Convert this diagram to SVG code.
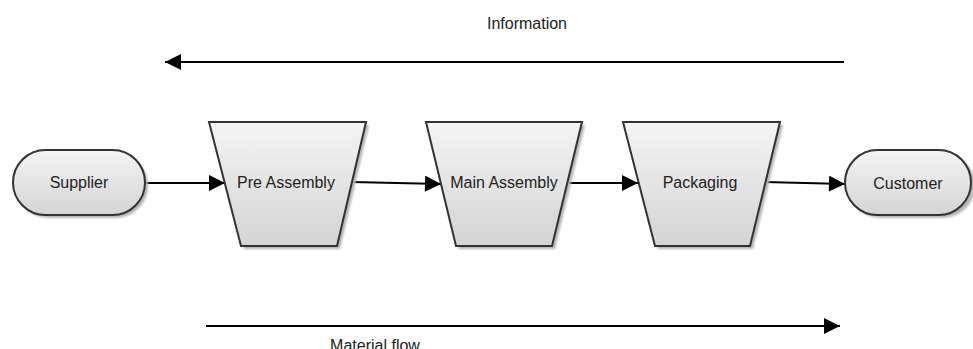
<svg xmlns="http://www.w3.org/2000/svg" width="973" height="349" viewBox="0 0 973 349">
  <style>
    .node { fill: url(#nodeFill); stroke: #333333; stroke-width: 2; }
    .shadow { fill: #b4b4b4; filter: url(#soft); }
    .label { font-family: "Liberation Sans", Arial, sans-serif; font-size: 16px; fill: #222222; text-anchor: middle; }
    .edge { fill: none; stroke: #000000; stroke-width: 2; }
  </style>
  <defs>
    <linearGradient id="nodeFill" x1="0" y1="0" x2="0" y2="1">
      <stop offset="0" stop-color="#f4f4f4"/>
      <stop offset="1" stop-color="#d4d4d4"/>
    </linearGradient>
    <filter id="soft" x="-10%" y="-10%" width="120%" height="120%">
      <feGaussianBlur stdDeviation="1"/>
    </filter>
    <marker id="arrow" viewBox="0 0 10 10" refX="10" refY="5" markerWidth="9" markerHeight="9" markerUnits="userSpaceOnUse" orient="auto">
      <path d="M0,0 L10,5 L0,10 Z" fill="#000000"/>
    </marker>
    <marker id="arrowBig" viewBox="0 0 10 10" refX="10" refY="5" markerWidth="9" markerHeight="8" markerUnits="strokeWidth" orient="auto">
      <path d="M0,0 L10,5 L0,10 Z" fill="#000000"/>
    </marker>
  </defs>

  <!-- flow connectors -->
  <g id="connectors">
    <line class="edge" x1="145" y1="183" x2="225" y2="183" marker-end="url(#arrowBig)"/>
    <line class="edge" x1="352" y1="182" x2="441" y2="184" marker-end="url(#arrowBig)"/>
    <line class="edge" x1="567" y1="183" x2="638" y2="183" marker-end="url(#arrowBig)"/>
    <line class="edge" x1="765" y1="182" x2="845" y2="184" marker-end="url(#arrowBig)"/>
    <!-- information flow (right to left) -->
    <line class="edge" x1="844" y1="62" x2="165" y2="62" marker-end="url(#arrowBig)"/>
    <!-- material flow (left to right) -->
    <line class="edge" x1="206" y1="326" x2="840" y2="326" marker-end="url(#arrowBig)"/>
  </g>

  <g id="supplier">
    <rect class="shadow" x="16" y="153" width="132" height="65" rx="32.5"/>
    <rect class="node" x="13" y="150" width="132" height="65" rx="32.5"/>
    <text class="label" x="79" y="188">Supplier</text>
  </g>

  <g id="pre-assembly">
    <polygon class="shadow" points="212,125 369,125 340,249 244,249"/>
    <polygon class="node" points="209,122 366,122 337,246 241,246"/>
    <text class="label" x="286" y="188">Pre Assembly</text>
  </g>

  <g id="main-assembly">
    <polygon class="shadow" points="429,125 585,125 555,249 459,249"/>
    <polygon class="node" points="426,122 582,122 552,246 456,246"/>
    <text class="label" x="504" y="188">Main Assembly</text>
  </g>

  <g id="packaging">
    <polygon class="shadow" points="626,125 783,125 753,249 658,249"/>
    <polygon class="node" points="623,122 780,122 750,246 655,246"/>
    <text class="label" x="700" y="188">Packaging</text>
  </g>

  <g id="customer">
    <rect class="shadow" x="848" y="153" width="127" height="65" rx="32.5"/>
    <rect class="node" x="845" y="150" width="126" height="65" rx="32.5"/>
    <text class="label" x="908" y="189">Customer</text>
  </g>

  <g id="flow-labels">
    <text class="label" x="527" y="29">Information</text>
    <text class="label" x="375" y="351">Material flow</text>
  </g>
</svg>
